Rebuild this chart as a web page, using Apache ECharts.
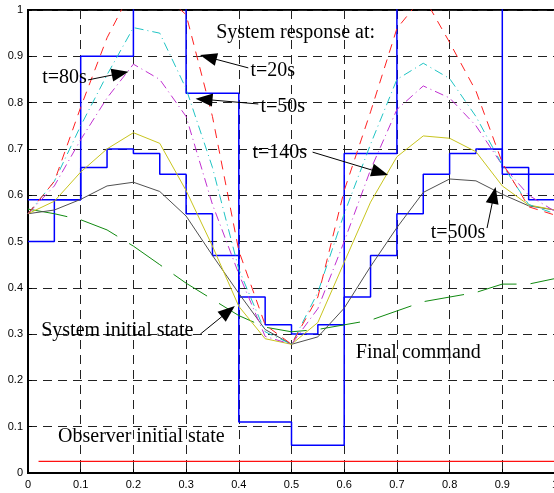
<!DOCTYPE html>
<html>
<head>
<meta charset="utf-8">
<script src="https://cdn.jsdelivr.net/npm/echarts@6/dist/echarts.min.js"></script>
<style>
html,body{margin:0;padding:0;background:#fff}
#main{width:554px;height:493px}
</style>
</head>
<body>
<div id="main"></div>
<script>
// time axis, one sample every 0.05
const xs = [0,0.05,0.1,0.15,0.2,0.25,0.3,0.35,0.4,0.45,0.5,0.55,0.6,0.65,0.7,0.75,0.8,0.85,0.9,0.95,1];
// coarse command steps (every 0.1), values above 1 are cut by the frame
const xsCoarse = [0,0.1,0.2,0.3,0.4,0.5,0.6,0.7,0.8,0.9,1];
const cmdCoarse = [0.59,0.90,1.1,0.82,0.11,0.06,0.69,1.1,1.1,0.645,0.645];
// fine command steps (every 0.05)
const cmdFine = [0.5,0.59,0.66,0.70,0.69,0.645,0.56,0.47,0.38,0.32,0.30,0.32,0.38,0.47,0.56,0.645,0.69,0.70,0.66,0.59,0.59];
// system responses
const resp20  = [0.56,0.63,0.79,0.94,1.05,1.04,0.99,0.77,0.48,0.32,0.278,0.38,0.61,0.78,0.96,1.03,0.93,0.825,0.67,0.575,0.557];
const resp50  = [0.56,0.63,0.75,0.86,0.962,0.95,0.83,0.66,0.44,0.305,0.278,0.39,0.56,0.71,0.85,0.885,0.852,0.77,0.665,0.58,0.56];
const resp80  = [0.56,0.62,0.72,0.81,0.883,0.85,0.77,0.58,0.43,0.295,0.278,0.355,0.50,0.655,0.785,0.836,0.81,0.75,0.665,0.60,0.565];
const resp140 = [0.56,0.587,0.65,0.70,0.735,0.712,0.61,0.49,0.36,0.29,0.278,0.325,0.455,0.585,0.683,0.728,0.723,0.694,0.62,0.579,0.568];
const resp500 = [0.56,0.568,0.591,0.62,0.628,0.608,0.555,0.47,0.388,0.31,0.278,0.294,0.356,0.446,0.53,0.606,0.635,0.631,0.602,0.577,0.568];
// system initial state
const sysInit = [0.57,0.56,0.547,0.525,0.49,0.45,0.41,0.375,0.34,0.315,0.305,0.31,0.32,0.33,0.35,0.37,0.38,0.39,0.408,0.408,0.42];
// observer initial state
const obsX = [0.02,1];
const obsInit = [0.025,0.025];

// texts and arrows, in data units
const notes = [
  {text:'System response at:', at:[0.357,0.950]},
  {text:'t=80s', at:[0.027,0.853]},
  {text:'t=20s', at:[0.422,0.868]},
  {text:'t=50s', at:[0.441,0.79]},
  {text:'t=140s', at:[0.426,0.691]},
  {text:'t=500s', at:[0.764,0.518]},
  {text:'System initial state', at:[0.025,0.307]},
  {text:'Final command', at:[0.622,0.259]},
  {text:'Observer initial state', at:[0.057,0.078]}
];
const arrows = [
  [[0.114,0.849],[0.175,0.863]],
  [[0.418,0.875],[0.342,0.898]],
  [[0.437,0.797],[0.334,0.807]],
  [[0.54,0.693],[0.668,0.649]],
  [[0.871,0.529],[0.884,0.600]],
  [[0.327,0.300],[0.380,0.349]]
];

const pair = (x, y) => x.map((v, i) => [v, y[i]]);

const line = (data, color, type, extra) => Object.assign({
  type:'line', data:data, symbol:'none', silent:true, clip:true,
  lineStyle:{color:color, width:1, type:type},
  emphasis:{disabled:true}
}, extra || {});

var chart = echarts.init(document.getElementById('main'));
var axisCommon = {
  type:'value', min:0, max:1, interval:0.1,
  axisLine:{show:true, lineStyle:{color:'#000', width:2}},
  axisTick:{show:true, inside:true, length:4, lineStyle:{color:'#000'}},
  axisLabel:{color:'#000', fontFamily:'Liberation Sans', fontSize:11},
  splitLine:{show:true, lineStyle:{color:'#222', width:1, type:[9,6]}}
};
chart.setOption({
  animation:false,
  grid:{left:28, top:10, width:527, height:463, outerBoundsMode:'none', containLabel:false,
    show:true, borderColor:'#000', borderWidth:2},
  xAxis:Object.assign({}, axisCommon, {axisLabel:Object.assign({}, axisCommon.axisLabel, {margin:6})}),
  yAxis:Object.assign({}, axisCommon, {axisLabel:Object.assign({}, axisCommon.axisLabel, {margin:5})}),
  series:[
    line(pair(xsCoarse, cmdCoarse), '#0000ff', 'solid', {step:'end', lineStyle:{color:'#0000ff', width:1.5}}),
    line(pair(xs, cmdFine), '#0000ff', 'solid', {step:'end', lineStyle:{color:'#0000ff', width:1.5}}),
    line(pair(xs, sysInit), '#108a10', [40,14]),
    line(pair(xs, resp500), '#505050', 'solid'),
    line(pair(xs, resp140), '#c8c41e', 'solid'),
    line(pair(xs, resp80), '#c030d0', [9,4,1,4]),
    line(pair(xs, resp50), '#20c4c4', [9,4,1,4]),
    line(pair(xs, resp20), '#ff2020', [9,7]),
    line(pair(obsX, obsInit), '#ff0000', 'solid', {
      lineStyle:{color:'#ff1010', width:1.3},
      markLine:{
        silent:true, animation:false,
        symbol:['none','triangle'], symbolSize:[13,17],
        label:{show:false},
        lineStyle:{color:'#000', width:1, type:'solid'},
        emphasis:{disabled:true},
        data:arrows.map(a => [{coord:a[0]}, {coord:a[1]}])
      }
    })
  ]
});

chart.setOption({
  graphic: notes.map(n => {
    const p = chart.convertToPixel({gridIndex:0}, n.at);
    return {type:'text', x:p[0], y:p[1], silent:true, z:100,
      style:{text:n.text, font:'20px "Liberation Serif"', fill:'#000', verticalAlign:'middle'}};
  })
});
</script>
</body>
</html>
